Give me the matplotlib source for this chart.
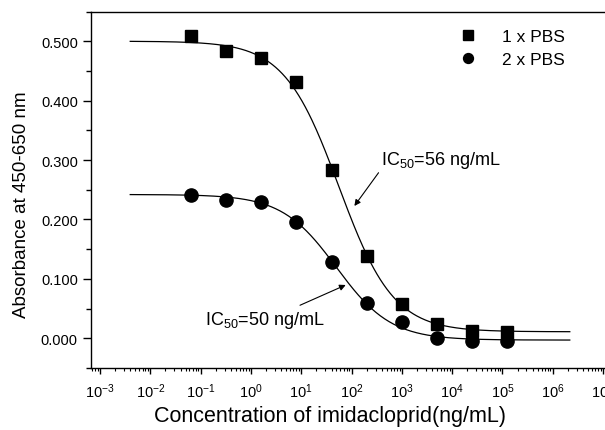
import numpy as np
import matplotlib
matplotlib.use('Agg')
import matplotlib.pyplot as plt
from matplotlib.ticker import FixedLocator, MultipleLocator, FormatStrFormatter, LogFormatterSciNotation

plt.rcParams['font.family'] = ['Liberation Sans', 'DejaVu Sans']
plt.rcParams['mathtext.fontset'] = 'custom'
plt.rcParams['mathtext.rm'] = 'Liberation Sans'
plt.rcParams['mathtext.it'] = 'Liberation Sans'
plt.rcParams['axes.unicode_minus'] = False

# concentration of imidacloprid (ng/mL), 5-fold dilutions
conc = [0.064, 0.32, 1.6, 8, 40, 200, 1000, 5000, 25000, 125000]
abs_1x = [0.508, 0.483, 0.472, 0.431, 0.283, 0.138, 0.057, 0.024, 0.012, 0.011]
abs_2x = [0.242, 0.233, 0.230, 0.196, 0.129, 0.059, 0.028, 0.000, -0.004, -0.004]

# four-parameter logistic fit parameters (top, bottom, IC50, slope)
fit_1x = (0.500, 0.011, 56.0, 0.8)
fit_2x = (0.242, -0.003, 50.0, 0.8)
fit_range = (10 ** -2.4, 10 ** 6.34)

x_decades = list(range(-3, 8))


def logistic4(x, top, bottom, ic50, slope):
    return bottom + (top - bottom) / (1 + (x / ic50) ** slope)


fig = plt.figure(figsize=(6.05, 4.31), dpi=100)
ax = fig.add_axes([91 / 605, 1 - 369 / 431, 514 / 605, 356.5 / 431])

xs = np.logspace(np.log10(fit_range[0]), np.log10(fit_range[1]), 400)
ax.plot(xs, logistic4(xs, *fit_1x), color='black', linewidth=0.9)
ax.plot(xs, logistic4(xs, *fit_2x), color='black', linewidth=0.9)
ax.plot(conc, abs_1x, 's', color='black', markersize=9, label='1 x PBS')
ax.plot(conc, abs_2x, 'o', color='black', markersize=9.5, label='2 x PBS')

ax.set_xscale('log')
ax.set_xlim(10 ** -3.18, 10 ** 7.04)
ax.set_ylim(-0.05, 0.55)

ax.yaxis.set_major_locator(MultipleLocator(0.1))
ax.yaxis.set_minor_locator(MultipleLocator(0.05))
ax.yaxis.set_major_formatter(FormatStrFormatter('%.3f'))
ax.xaxis.set_major_locator(FixedLocator([10.0 ** d for d in x_decades]))
ax.xaxis.set_major_formatter(LogFormatterSciNotation())
minor = [m * 10.0 ** d for d in range(-4, 8) for m in range(2, 10)]
ax.xaxis.set_minor_locator(FixedLocator([v for v in minor if 10 ** -3.18 < v < 10 ** 7.04]))

ax.tick_params(axis='both', which='major', direction='out', labelsize=10.5, width=1)
ax.tick_params(axis='y', which='major', length=6)
ax.tick_params(axis='y', which='minor', length=3.5, width=1)
ax.tick_params(axis='x', which='major', length=4.5, pad=5)
ax.tick_params(axis='x', which='minor', length=2.5, width=0.8)
ax.spines['right'].set_visible(False)
for s in ['left', 'bottom', 'top']:
    ax.spines[s].set_linewidth(1)

ax.set_ylabel('Absorbance at 450-650 nm', fontsize=13.5, va='center')
ax.yaxis.set_label_coords((22 - 91) / 514, (369 - 205) / 356.5)
ax.set_xlabel('Concentration of imidacloprid(ng/mL)', fontsize=15.5, va='center')
ax.xaxis.set_label_coords((330 - 91) / 514, (369 - 417) / 356.5)

ax.annotate(r'IC$_{50}$=56 ng/mL', xy=(114, 0.2227), xytext=(378, 0.301),
            fontsize=13, va='center', ha='left',
            arrowprops=dict(arrowstyle='-|>', color='black', lw=0.8,
                            shrinkA=0, shrinkB=0, mutation_scale=9,
                            relpos=(0, 0)))
ax.annotate(r'IC$_{50}$=50 ng/mL', xy=(76.7, 0.0897), xytext=(0.1224, 0.032),
            fontsize=13, va='center', ha='left')
ax.annotate('', xy=(76.7, 0.0897), xytext=(9.46, 0.0556),
            arrowprops=dict(arrowstyle='-|>', color='black', lw=0.8,
                            shrinkA=0, shrinkB=0, mutation_scale=9))

ax.legend(loc='upper left', bbox_to_anchor=(0.716, 0.95), frameon=False,
          fontsize=12.5, numpoints=1, handlelength=1.0, handletextpad=1.45,
          labelspacing=0.45, borderpad=0, borderaxespad=0, markerscale=0.75)

fig.savefig('out.png', dpi=100)
